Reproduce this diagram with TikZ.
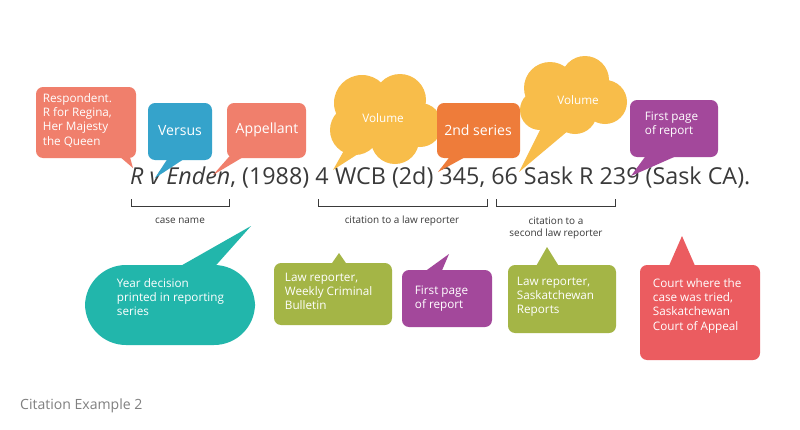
\documentclass[tikz,border=0pt]{standalone}
\usepackage{fontspec}
\setmainfont{Open Sans}
\usetikzlibrary{positioning}
\definecolor{salmon}{HTML}{F07F6C}
\definecolor{skyblue}{HTML}{35A3CB}
\definecolor{sunny}{HTML}{F8BD4A}
\definecolor{tangerine}{HTML}{EE7C3A}
\definecolor{plum}{HTML}{A3489B}
\definecolor{olive}{HTML}{A4B546}
\definecolor{teal}{HTML}{22B6AB}
\definecolor{coral}{HTML}{EB5C60}
\definecolor{ink}{HTML}{3A3A3A}
\begin{document}
\begin{tikzpicture}[x=0.3mm,y=-0.3mm,
    bubble/.style={rounded corners=6pt,inner sep=4pt,text=white,font=\fontsize{10}{12}\selectfont,align=left},
    bracket/.style={draw=ink,line width=0.8pt},
    note/.style={text=ink,font=\fontsize{8.5}{10}\selectfont,align=center}]
    \useasboundingbox[fill=white] (0,0) rectangle (800,429);

    % Citation line
    \node[anchor=base west,text=ink,font=\fontsize{19}{22}\selectfont,inner sep=0] (cite) at (130,184)
        {\resizebox{186mm}{!}{\textit{R v Enden},\ (1988) 4 WCB (2d) 345,\ 66 Sask R 239 (Sask CA).}};

    % Brackets and their labels
    \draw[bracket] (131,199) -- (131,206) -- (229,206) -- (229,199);
    \node[note] (casename) at (180,221) {case name};
    \draw[bracket] (318,199) -- (318,206) -- (487,206) -- (487,199);
    \node[note] (lawrep) at (402,221) {citation to a law reporter};
    \draw[bracket] (496,199) -- (496,206) -- (615,206) -- (615,199);
    \node[note] (secondrep) at (556,228) {citation to a\\second law reporter};

    % Upper bubbles
    \fill[salmon,rounded corners=6pt] (36,87) rectangle (136,158);
    \fill[salmon] (112,150) -- (133,168) -- (128,150) -- cycle;
    \node[bubble,anchor=north west] (resp) at (38,89) {Respondent.\\R for Regina,\\Her Majesty\\the Queen};

    \fill[skyblue,rounded corners=6pt] (148,103) rectangle (212,160);
    \fill[skyblue] (170,155) -- (155,178) -- (190,155) -- cycle;
    \node[bubble,font=\fontsize{12}{14}\selectfont] (versus) at (180,131) {Versus};

    \fill[salmon,rounded corners=6pt] (227,103) rectangle (306,158);
    \fill[salmon] (235,150) -- (213,175) -- (255,150) -- cycle;
    \node[bubble,font=\fontsize{12}{14}\selectfont] (appellant) at (267,130) {Appellant};

    % First cloud
    \fill[sunny] (362,103) circle (28) (400,100) circle (26) (420,125) circle (22)
        (395,140) circle (24) (355,130) circle (25);
    \fill[sunny] (350,140) -- (333,170) -- (372,145) -- cycle;
    \node[bubble] (vol1) at (383,118) {Volume};

    \fill[tangerine,rounded corners=6pt] (437,103) rectangle (520,158);
    \fill[tangerine] (455,150) -- (438,172) -- (478,150) -- cycle;
    \node[bubble,font=\fontsize{12}{14}\selectfont] (series) at (478,130) {2nd series};

    % Second cloud
    \fill[sunny] (550,88) circle (26) (585,80) circle (24) (605,102) circle (22)
        (575,112) circle (22) (540,110) circle (20);
    \fill[sunny] (545,120) -- (519,172) -- (575,125) -- cycle;
    \node[bubble] (vol2) at (578,100) {Volume};

    \fill[plum,rounded corners=6pt] (630,100) rectangle (718,157);
    \fill[plum] (650,150) -- (631,176) -- (690,150) -- cycle;
    \node[bubble,anchor=north west] (firstpg1) at (640,107) {First page\\of report};

    % Lower bubbles
    \fill[teal,rounded corners=35pt] (85,265) rectangle (255,345);
    \fill[teal] (170,272) -- (251,226) -- (210,272) -- cycle;
    \node[bubble,anchor=north west] (year) at (112,274) {Year decision\\printed in reporting\\series};

    \fill[olive,rounded corners=6pt] (274,263) rectangle (392,325);
    \fill[olive] (330,266) -- (339,253) -- (348,266) -- cycle;
    \node[bubble,anchor=north west] (wcb) at (280,268) {Law reporter,\\Weekly Criminal\\Bulletin};

    \fill[plum,rounded corners=6pt] (402,270) rectangle (492,327);
    \fill[plum] (420,275) -- (449,254) -- (440,275) -- cycle;
    \node[bubble,anchor=north west] (firstpg2) at (410,281) {First page\\of report};

    \fill[olive,rounded corners=6pt] (508,265) rectangle (616,333);
    \fill[olive] (535,268) -- (547,247) -- (560,268) -- cycle;
    \node[bubble,anchor=north west] (sask) at (512,272) {Law reporter,\\Saskatchewan\\Reports};

    \fill[coral,rounded corners=6pt] (640,265) rectangle (760,360);
    \fill[coral] (668,268) -- (682,236) -- (696,268) -- cycle;
    \node[bubble,anchor=north west] (court) at (648,274) {Court where the\\case was tried,\\Saskatchewan\\Court of Appeal};

    % Caption
    \node[anchor=west,text=gray,font=\fontsize{12}{14}\selectfont] (caption) at (16,406) {Citation Example 2};
\end{tikzpicture}
\end{document}
